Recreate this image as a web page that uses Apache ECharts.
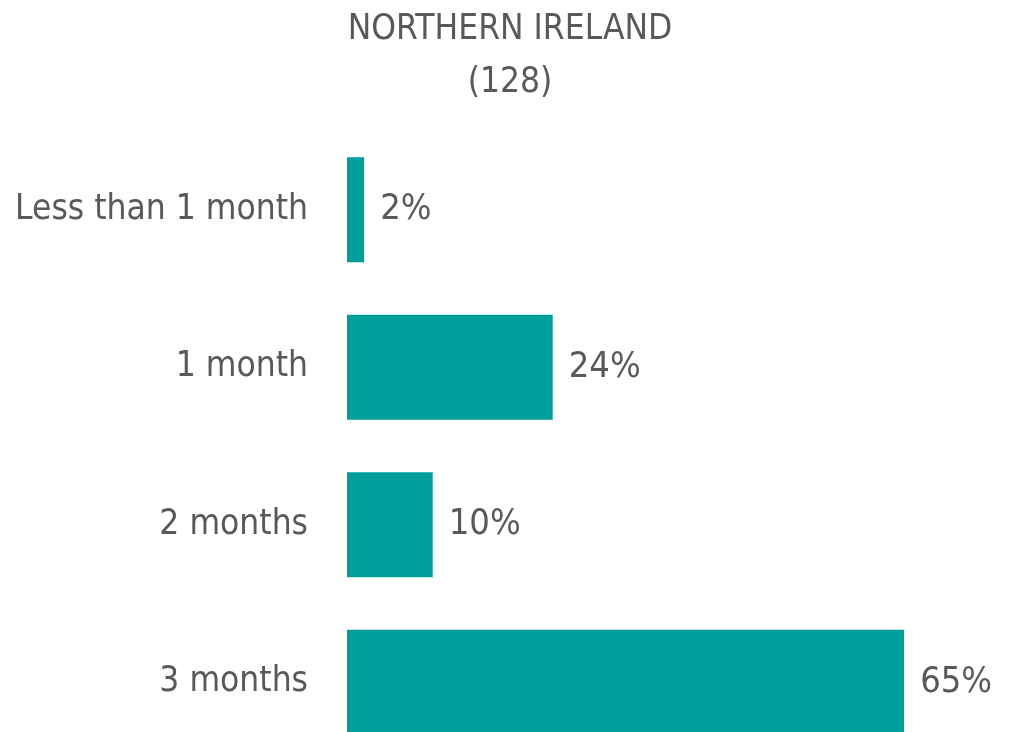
<!DOCTYPE html>
<html>
<head>
<meta charset="utf-8">
<script src="https://cdn.jsdelivr.net/npm/echarts@6/dist/echarts.min.js"></script>
<style>
  html, body { margin: 0; padding: 0; background: #ffffff; }
  #chart { width: 1018px; height: 732px; }
</style>
</head>
<body>
<div id="chart"></div>
<script>
// Duration categories and share of respondents (%)
const categories = ['Less than 1 month', '1 month', '2 months', '3 months'];
const shares = [2, 24, 10, 65];
const titleLines = ['NORTHERN IRELAND', '(128)'];

const FONT = '"Liberation Sans Narrow", "DejaVu Sans Condensed", "Liberation Sans", sans-serif';
const TEXT = '#595959';
const BAR = '#009e9b';

const chart = echarts.init(document.getElementById('chart'), null, { renderer: 'canvas' });
chart.setOption({
  animation: false,
  backgroundColor: '#ffffff',
  title: {
    text: titleLines.join('\n'),
    left: 505,
    textAlign: 'center',
    top: -2,
    textStyle: {
      fontFamily: FONT,
      fontSize: 35,
      fontWeight: 'normal',
      color: TEXT,
      lineHeight: 53
    }
  },
  grid: { left: 347, top: 131, width: 600, height: 630, outerBoundsMode: 'none' },
  xAxis: {
    type: 'value',
    min: 0,
    max: 70,
    show: false
  },
  yAxis: {
    type: 'category',
    data: categories,
    inverse: true,
    axisLine: { show: false },
    axisTick: { show: false },
    splitLine: { show: false },
    axisLabel: {
      margin: 39,
      fontFamily: FONT,
      fontSize: 35,
      color: TEXT
    }
  },
  series: [{
    type: 'bar',
    data: shares,
    barWidth: '66.7%',
    itemStyle: { color: BAR },
    label: {
      show: true,
      position: 'right',
      distance: 16,
      formatter: '{c}%',
      fontFamily: FONT,
      fontSize: 36,
      color: TEXT
    }
  }]
});
</script>
</body>
</html>
